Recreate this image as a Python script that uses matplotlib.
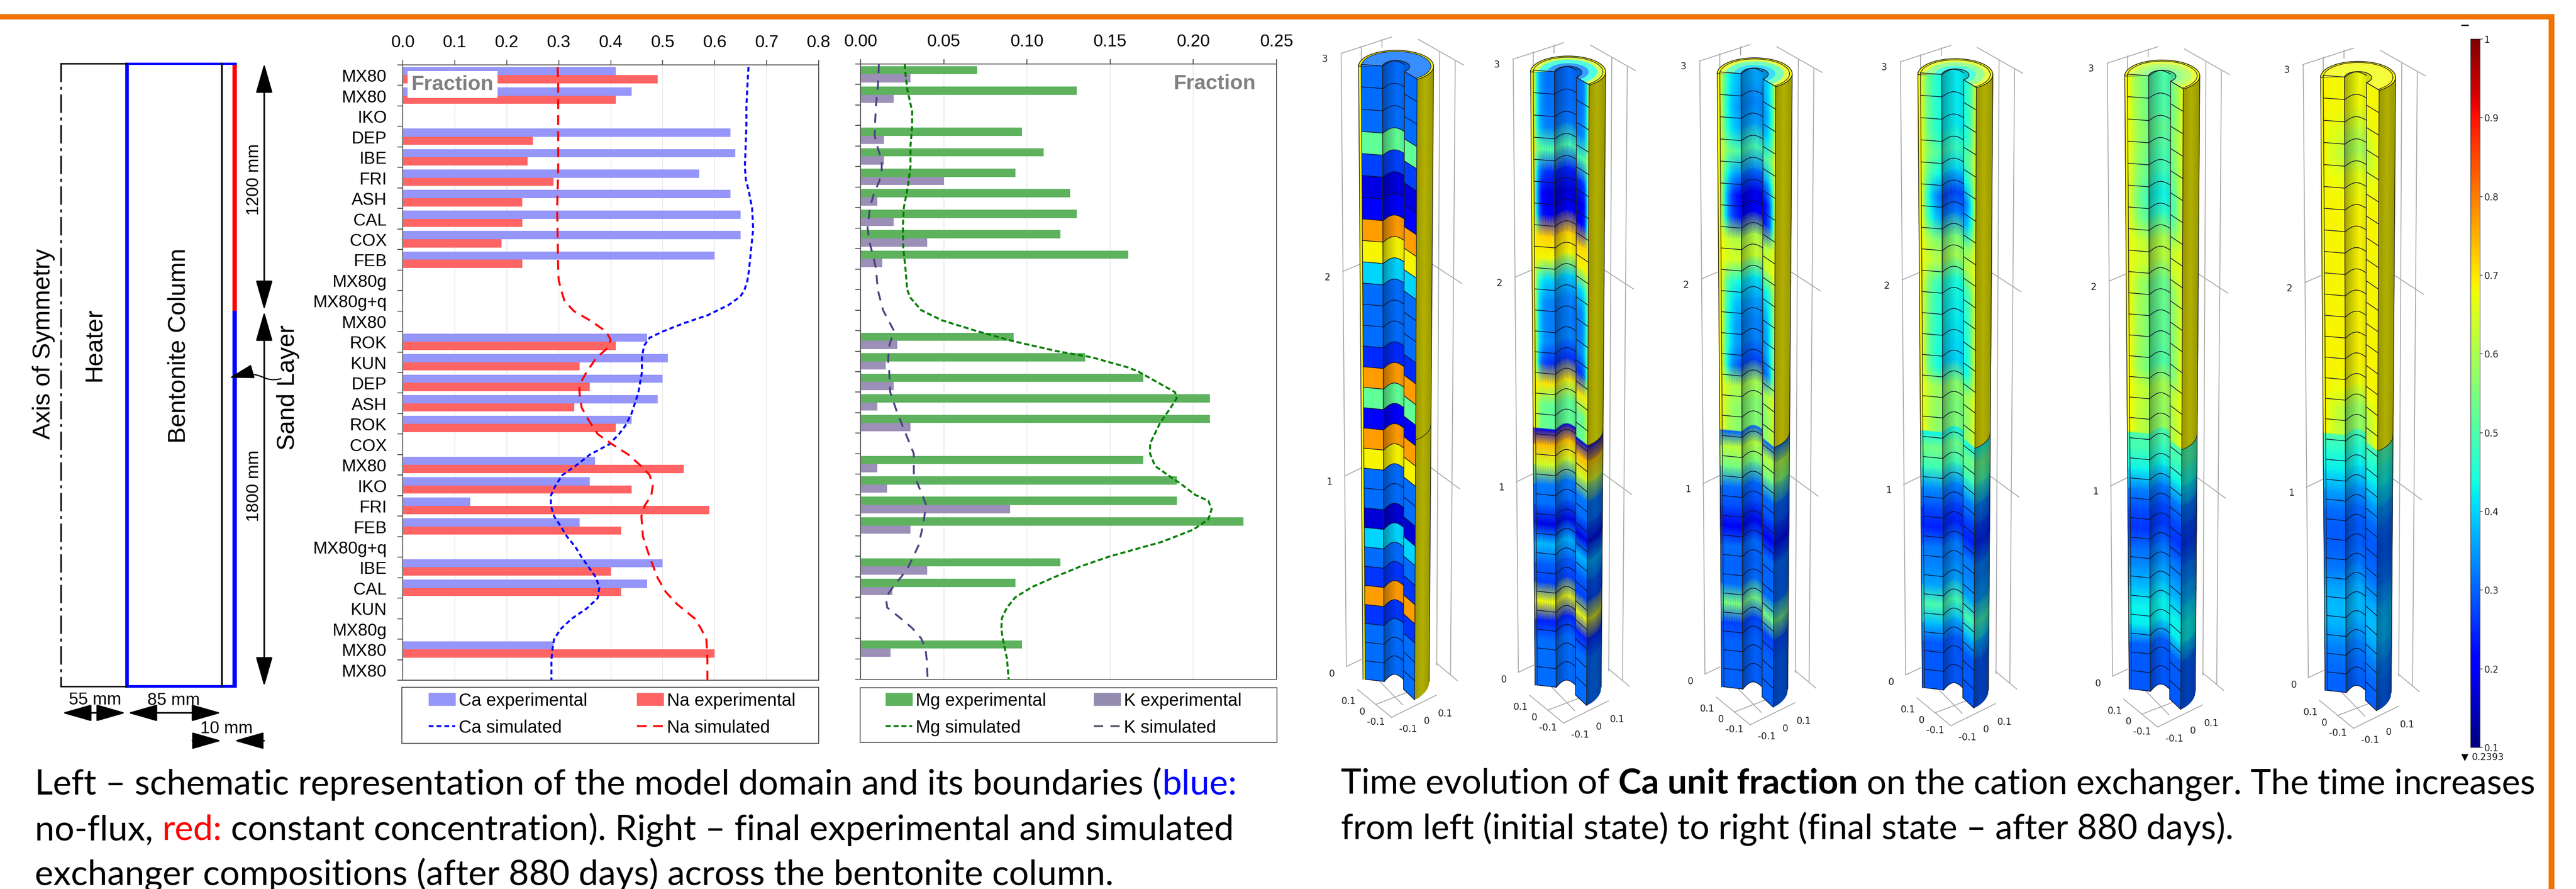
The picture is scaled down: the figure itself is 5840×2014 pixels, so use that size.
import numpy as np
import matplotlib
matplotlib.use("Agg")
import matplotlib.pyplot as plt
from matplotlib.colors import Normalize
from matplotlib.cm import ScalarMappable
from matplotlib.lines import Line2D
from matplotlib.patches import Patch, Rectangle, Polygon, Ellipse, FancyArrowPatch
from matplotlib.path import Path

W, H = 5840, 2015

samples = ["MX80", "MX80", "IKO", "DEP", "IBE", "FRI", "ASH", "CAL", "COX", "FEB",
           "MX80g", "MX80g+q", "MX80", "ROK", "KUN", "DEP", "ASH", "ROK", "COX", "MX80",
           "IKO", "FRI", "FEB", "MX80g+q", "IBE", "CAL", "KUN", "MX80g", "MX80", "MX80"]
n = np.nan
ca_exp = [.41, .44, n, .63, .64, .57, .63, .65, .65, .60, n, n, n, .47, .51, .50, .49, .44, n, .37,
          .36, .13, .34, n, .50, .47, n, n, .29, n]
na_exp = [.49, .41, n, .25, .24, .29, .23, .23, .19, .23, n, n, n, .41, .34, .36, .33, .41, n, .54,
          .44, .59, .42, n, .40, .42, n, n, .60, n]
mg_exp = [.07, .13, n, .097, .11, .093, .126, .13, .12, .161, n, n, n, .092, .135, .17, .21, .21, n, .17,
          .19, .19, .23, n, .12, .093, n, n, .097, n]
k_exp = [.03, .02, n, .014, .014, .05, .01, .02, .04, .013, n, n, n, .022, .015, .02, .01, .03, n, .01,
         .016, .09, .03, n, .04, .019, n, n, .018, n]

ca_sim_y = [.1, 1, 2, 3, 5, 5.6, 6.2, 7, 8, 9, 10, 10.5, 11, 11.3, 11.7, 12.2, 12.6, 13, 13.3, 13.7, 14.3, 15, 16,
            17, 17.6, 18, 18.5, 19, 19.5, 20, 20.5, 21, 21.5, 22, 22.5, 23, 23.5, 24, 25, 25.5, 26, 26.5, 27,
            27.5, 28, 28.5, 29, 30]
ca_sim_x = [.665, .663, .661, .661, .658, .66, .666, .672, .674, .67, .666, .663, .657, .649, .627, .587, .54, .50,
            .475, .464, .46, .46, .453, .44, .428, .416, .397, .36, .335, .307, .294, .285, .285, .291, .304,
            .316, .332, .344, .372, .378, .375, .354, .325, .304, .291, .288, .286, .286]
na_sim_y = [.1, 1, 5, 7, 10, 10.5, 11, 11.5, 12, 12.5, 13, 13.4, 13.8, 14.3, 15, 15.6, 16, 16.7, 17.3, 18, 18.5,
            19, 19.5, 20, 20.5, 21, 21.5, 22, 23, 24, 25, 25.7, 26.3, 27, 27.5, 28, 29, 30]
na_sim_x = [.298, .299, .299, .297, .299, .30, .305, .311, .329, .363, .391, .40, .394, .372, .353, .34, .34, .344,
            .357, .375, .403, .434, .456, .475, .481, .478, .465, .459, .462, .475, .49, .506, .528, .562, .574,
            .584, .586, .586]
mg_sim_y = [0, .5, 1.2, 1.8, 2.3, 3, 4, 5, 6, 7, 8, 9, 10, 11, 11.4, 12, 12.5, 13, 13.5, 14, 14.3, 14.8, 15, 15.5,
            16, 16.3, 16.8, 17.5, 18, 18.5, 19, 19.6, 20, 20.5, 21, 21.3, 21.7, 22.2, 22.7, 23.3, 24, 24.5, 25,
            25.5, 26, 26.5, 27, 27.5, 28, 29, 30]
mg_sim_x = [.0266, .027, .028, .0296, .031, .031, .03, .03, .0284, .026, .0254, .0257, .027, .028, .03, .0364, .049,
            .069, .091, .118, .139, .161, .167, .178, .189, .19, .186, .18, .177, .174, .174, .177, .184, .193,
            .201, .209, .211, .209, .20, .181, .15, .132, .117, .103, .093, .088, .085, .0846, .0854, .088, .089]
k_sim_y = [0, 1, 2, 2.7, 3.5, 4, 4.7, 5.2, 5.7, 6.3, 7, 8, 8.7, 9.5, 10, 11, 12, 13, 13.8, 14.5, 15, 16, 17, 18,
           19, 20, 21, 21.5, 22.5, 23.5, 24.5, 25, 25.5, 26, 26.5, 27, 27.5, 28, 28.5, 29, 30]
k_sim_x = [.011, .0105, .0093, .0088, .0085, .01, .0127, .0127, .0113, .0081, .0056, .0042, .0054, .008, .0093,
           .0103, .0135, .02, .017, .0166, .0172, .0178, .022, .027, .032, .032, .037, .0394, .0375, .0347,
           .0288, .0245, .0195, .0152, .016, .0237, .031, .0364, .039, .0397, .0403]

# unit fraction per layer, top to bottom, one list per time step
col1 = [.31, .31, .31, .52, .27, .18, .21, .77, .685, .40, .31, .31, .31, .25, .77, .52, .20, .77, .685, .31,
        .31, .17, .40, .31, .26, .77, .26, .31, .31, .31]
col2 = [.31, .31, .32, .50, .25, .17, .20, .72, .68, .40, .33, .32, .33, .25, .70, .52, .18, .74, .64, .32,
        .31, .18, .38, .30, .27, .68, .24, .31, .31, .31]
col3 = [.36, .33, .36, .50, .33, .19, .21, .60, .64, .42, .36, .33, .33, .27, .60, .56, .30, .62, .54, .31,
        .28, .19, .31, .30, .31, .55, .27, .30, .30, .30]
col4 = [.42, .42, .42, .48, .40, .27, .33, .54, .60, .45, .43, .42, .41, .40, .57, .55, .43, .54, .48, .34,
        .28, .24, .32, .33, .36, .50, .38, .29, .29, .29]
col5 = [.50, .50, .52, .50, .48, .43, .47, .60, .62, .53, .53, .52, .52, .50, .60, .58, .50, .49, .43, .33,
        .28, .26, .31, .34, .38, .43, .42, .30, .29, .29]
col6 = [.68, .68, .63, .59, .66, .68, .685, .685, .685, .685, .685, .685, .685, .685, .67, .58, .50, .46, .42, .36,
        .31, .29, .30, .32, .36, .38, .37, .33, .31, .30]
columns = [col1, col2, col3, col4, col5, col6]
column_cx = [3165, 3555, 3978, 4433, 4902, 5346]
column_top = [147, 160, 164, 166, 169, 172]
edge_width = [0, .16, .30, .40, .60, .8]
top_colors = [(.31, .31, .31), (.64, .45, .33), (.66, .50, .40), (.66, .55, .45), (.66, .60, .55), (.685, .68, .68)]

cb_ticks = [.1, .2, .3, .4, .5, .6, .7, .8, .9, 1]
cb_labels = ["0.1", "0.2", "0.3", "0.4", "0.5", "0.6", "0.7", "0.8", "0.9", "1"]

ORANGE = "#F07400"
ARIAL = "Liberation Sans"
YELLOW = .685
cmap = plt.get_cmap("jet")
norm = Normalize(.1, 1)

fig = plt.figure(figsize=(W / 100, H / 100), dpi=100, facecolor="white")
bg = fig.add_axes([0, 0, 1, 1])
bg.set_xlim(0, W)
bg.set_ylim(H, 0)
bg.axis("off")


def axes_px(l, t, r, b):
    return fig.add_axes([l / W, 1 - b / H, (r - l) / W, (b - t) / H])


# border
bg.add_patch(Rectangle((0, 33), 5791, 12, color=ORANGE, lw=0))
bg.add_patch(Rectangle((5778, 33), 13, H, color=ORANGE, lw=0))

# schematic
bg.plot([138, 138], [145, 1556], color="k", lw=2.5, ls=(0, (12, 3, 2, 3)))
bg.plot([138, 287], [145, 145], color="k", lw=2.5)
bg.plot([138, 287], [1556, 1556], color="k", lw=2.5)
bg.plot([503, 503], [145, 1556], color="k", lw=2.8)
bg.add_patch(Rectangle((284, 143), 253, 5, color="#0000FF", lw=0))
bg.add_patch(Rectangle((284, 1553), 253, 6, color="#0000FF", lw=0))
bg.add_patch(Rectangle((284, 143), 8, 1416, color="#0000FF", lw=0))
bg.add_patch(Rectangle((527, 148), 10, 557, color="#FF0000", lw=0))
bg.add_patch(Rectangle((527, 705), 10, 851, color="#0000FF", lw=0))


def arrow(x0, y0, x1, y1, style="<|-|>"):
    bg.annotate("", xy=(x1, y1), xytext=(x0, y0),
                arrowprops=dict(arrowstyle=style + ",head_length=0.7,head_width=0.2", color="k", lw=2.5,
                                mutation_scale=60, shrinkA=0, shrinkB=0))


arrow(599, 145, 599, 703)
arrow(599, 707, 599, 1556)
arrow(141, 1616, 285, 1616)
arrow(290, 1616, 501, 1616)
arrow(436, 1679, 502, 1679, "-|>")
arrow(599, 1679, 531, 1679, "-|>")
sand = Path([(637, 859), (590, 870), (600, 835), (520, 857)], [Path.MOVETO, Path.CURVE4, Path.CURVE4, Path.CURVE4])
bg.add_patch(FancyArrowPatch(path=sand, arrowstyle="-|>,head_length=0.7,head_width=0.2", color="k", lw=2,
                             mutation_scale=50))

for txt, x, y in [("Axis of Symmetry", 99, 779), ("Heater", 214, 781), ("Bentonite Column", 406, 783),
                  ("Sand Layer", 653, 878)]:
    bg.text(x, y, txt, rotation=90, ha="center", va="center", family=ARIAL, fontsize=40, color="k")
for txt, y in [("1200 mm", 407), ("1800 mm", 1101)]:
    bg.text(576, y, txt, rotation=90, ha="center", va="center", family=ARIAL, fontsize=28, color="k")
for txt, x, y in [("55 mm", 215, 1586), ("85 mm", 394, 1587), ("10 mm", 514, 1651)]:
    bg.text(x, y, txt, ha="center", va="center", family=ARIAL, fontsize=28, color="k")


# the two bar panels
def bar_panel(ax, left_vals, right_vals, left_color, right_color, xmax, xticks, fmt, labels):
    y = np.arange(30) + .5
    ax.barh(y - .2, left_vals, height=.4, color=left_color, zorder=2)
    ax.barh(y + .2, right_vals, height=.4, color=right_color, zorder=2)
    ax.set_xlim(0, xmax)
    ax.set_ylim(30, 0)
    ax.xaxis.tick_top()
    ax.set_xticks(xticks)
    ax.set_xticklabels([fmt % v for v in xticks], family=ARIAL, fontsize=28)
    ax.tick_params(axis="x", length=8, width=1.5, color="#555555", pad=16, labelcolor="k")
    ax.set_yticks(y)
    ax.set_yticklabels(labels, family=ARIAL, fontsize=28)
    ax.tick_params(axis="y", which="major", length=0, pad=26, labelcolor="k")
    ax.set_yticks(np.arange(31), minor=True)
    ax.tick_params(axis="y", which="minor", length=9, width=1.5, color="#555555")
    ax.grid(axis="x", color="#E8E8E8", lw=1.2, zorder=0)
    ax.set_axisbelow(True)
    for s in ax.spines.values():
        s.set_color("#555555")
        s.set_linewidth(1.5)


ax1 = axes_px(913, 148, 1856, 1542)
bar_panel(ax1, ca_exp, na_exp, "#9595FA", "#FF6464", .8, [0, .1, .2, .3, .4, .5, .6, .7, .8], "%.1f", samples)
ax1.plot(ca_sim_x, ca_sim_y, color="#0000FF", lw=3.2, ls=(0, (2.4, 1.6)), zorder=3)
ax1.plot(na_sim_x, na_sim_y, color="#FF0000", lw=3.2, ls=(0, (5, 3.2)), zorder=3)
ax1.text(.096, .95, "Fraction", family=ARIAL, weight="bold", fontsize=34, color="#808080", ha="center", va="center",
         bbox=dict(fc="white", ec="none", pad=6), zorder=4)

ax2 = axes_px(1951, 146, 2894, 1540)
bar_panel(ax2, mg_exp, k_exp, "#5EB25E", "#9C8FB8", .25, [0, .05, .1, .15, .2, .25], "%.2f", [""] * 30)
ax2.plot(mg_sim_x, mg_sim_y, color="#007F00", lw=3.2, ls=(0, (2.6, 1.4)), zorder=3)
ax2.plot(k_sim_x, k_sim_y, color="#4A4280", lw=3, ls=(0, (5, 4)), zorder=3)
ax2.text(.213, .95, "Fraction", family=ARIAL, weight="bold", fontsize=34, color="#808080", ha="center", va="center",
         zorder=4)

bg.add_patch(Rectangle((911, 1558), 945, 127, fc="white", ec="#555555", lw=1.5))
bg.add_patch(Rectangle((1950, 1559), 945, 124, fc="white", ec="#555555", lw=1.5))


def panel_legend(ax, x, y, handles, spacing):
    ax.legend(handles=handles, ncol=2, loc="upper left", bbox_to_anchor=(x / W, 1 - y / H),
              bbox_transform=fig.transFigure, frameon=False, borderpad=0, borderaxespad=0,
              handlelength=1.5, handletextpad=.2, columnspacing=spacing, labelspacing=.58,
              prop={"family": ARIAL, "size": 28.8})


panel_legend(ax1, 972, 1569, [
    Patch(color="#9595FA", label="Ca experimental"),
    Line2D([], [], color="#0000FF", lw=3.2, ls=(0, (2.4, 1.6)), label="Ca simulated"),
    Patch(color="#FF6464", label="Na experimental"),
    Line2D([], [], color="#FF0000", lw=3.2, ls=(0, (5, 3.2)), label="Na simulated")], 2.8)
panel_legend(ax2, 2008, 1569, [
    Patch(color="#5EB25E", label="Mg experimental"),
    Line2D([], [], color="#007F00", lw=3.2, ls=(0, (2.6, 1.4)), label="Mg simulated"),
    Patch(color="#948CAF", label="K experimental"),
    Line2D([], [], color="#555566", lw=3, ls=(0, (5, 4)), label="K simulated")], 2.7)


# 3d columns
T_SAND = .557
U = [0, .035, .318, .612, .78, 1]


def col_x(cx, u, t):
    return cx + (np.asarray(u) - .5) * (170 - 20 * np.asarray(t))


def col_y(top, t):
    return top + 1393 * (1.1 * np.asarray(t) - .1 * np.asarray(t) ** 2)


def offset(u, t, face):
    p = 1 + .4 * t
    if face == 0:
        return 0 * u
    if face == 1:
        return p * 3.5 * (u - U[1]) / (U[2] - U[1])
    if face == 2:
        v = (u - U[2]) / (U[3] - U[2])
        return p * (4 * (1 - v) - 10 * np.sin(np.pi * v))
    if face == 3:
        v = (u - U[3]) / (U[4] - U[3])
        return p * (16 + 17 * v)
    c = np.clip((u - .5) * 2, -1, 1)
    return 4 + 36 * p * np.sqrt(1 - c ** 2)


def shade_of(u, face):
    if face == 2:
        v = (u - U[2]) / (U[3] - U[2])
        return np.interp(v, [0, .12, .7, 1], [.62, .74, 1, .9])
    if face == 4:
        v = (u - U[4]) / (U[5] - U[4])
        return np.interp(v, [0, .5, 1], [.62, .72, .62])
    return np.ones_like(u)


def draw_face(cx, top, vals, face, width, sharp, solid_above=False):
    us = np.linspace(U[face], U[face + 1], 18 if face in (2, 4) else 9)
    v = np.array(vals, dtype=float)
    if sharp:
        ts = np.linspace(0, 1, 31)
        row_t = (ts[:-1] + ts[1:]) / 2
        row_v = v
        col_u = (us[:-1] + us[1:]) / 2
    else:
        row_t = (np.arange(30) + .5) / 30
        row_t = np.r_[0, row_t[:16], T_SAND - .001, T_SAND + .001, row_t[17:], 1]
        row_v = np.r_[v[0], v[:16], v[15], v[16], v[17:], v[-1]]
        ts = row_t
        col_u = us
    val = np.tile(row_v[:, None], (1, len(col_u)))
    if face in (1, 3) and width > 0:
        d = (col_u - U[1]) / (U[2] - U[1]) if face == 1 else (U[4] - col_u) / (U[4] - U[3])
        weight = np.exp(-d / width)
        upper = row_t < T_SAND
        val[upper] = val[upper] + (YELLOW - val[upper]) * weight[None, :]
    if solid_above:
        val[row_t < T_SAND] = YELLOW
    rgba = cmap(norm(val))
    rgba[..., :3] *= shade_of(col_u, face)[None, :, None]
    tt, uu = np.meshgrid(ts, us, indexing="ij")
    X = col_x(cx, uu, tt)
    Y = col_y(top, tt) + offset(uu, tt, face)
    bg.pcolormesh(X, Y, rgba, shading="flat" if sharp else "gouraud", zorder=5, rasterized=True,
                  edgecolors="none", antialiased=False)


def band_lines(cx, top):
    for t in np.arange(0, 31) / 30:
        for face in (1, 2, 3):
            us = np.linspace(U[face], U[face + 1], 20)
            bg.plot(col_x(cx, us, t), col_y(top, t) + offset(us, t, face), color="#101030", lw=1.1, zorder=6)


def edge_lines(cx, top):
    ts = np.array([0, 1.0])
    for i, u in enumerate(U):
        face = min(i, 4)
        bg.plot(col_x(cx, u, ts), col_y(top, ts) + offset(np.array(u), ts, face), color="#222222", lw=1.1, zorder=6)


def column_top_cap(cx, top, colors, bore_val):
    yc = top + 4
    th = np.radians(np.linspace(55.6, -180, 120))
    outer = np.c_[cx + 85 * np.cos(th), yc + 36 * np.sin(th)]
    th2 = np.radians(np.linspace(-180, 50, 50))
    hole = np.c_[cx + 31 * np.cos(th2), top + 5 + 14 * np.sin(th2)]
    pts = np.r_[outer, [[cx - 31, top + 3]], hole,
                [[col_x(cx, U[3], 0), top + 16], [col_x(cx, U[4], 0), top + 33]]]
    # inside of the bore, seen through the cut
    bore = np.array(cmap(norm(bore_val)))
    bore[:3] *= .85
    bg.add_patch(Polygon(np.r_[hole, [[cx + 19, top + 30], [cx - 31, top + 30]]], closed=True, fc=bore, ec="none",
                         zorder=4.5))
    poly = Polygon(pts, closed=True, fc="#FFFF00", ec="#222222", lw=1.2, zorder=5)
    bg.add_patch(poly)
    for scale, val in [(.93, colors[0]), (.78, colors[1]), (.55, colors[2])]:
        fc = np.array(cmap(norm(val)))
        fc[:3] += (1 - fc[:3]) * .22
        e = Ellipse((cx, yc), 170 * scale, 72 * scale, fc=fc, ec="none", zorder=5)
        bg.add_patch(e)
        e.set_clip_path(poly)
    inner = .93
    th3 = np.radians(np.linspace(0, 360, 120))
    rim, = bg.plot(cx + 85 * inner * np.cos(th3), yc + 36 * inner * np.sin(th3), color="#222222", lw=1, zorder=5)
    rim.set_clip_path(poly)
    bg.plot(hole[:, 0], hole[:, 1], color="#222222", lw=1.1, zorder=6)


def frame_3d(cx, top):
    segs = [((-125, -25), (-113, 1364)), ((-125, -25), (-8, -62)), ((-78, -41), (-78, 8)), ((-30, -57), (-30, -39)),
            ((54, -57), (159, 1)), ((104, -28), (97, 1361)), ((140, -7), (129, 1382)),
            ((-121, 469), (-78, 451)), ((84, 451), (155, 496)), ((-118, 933), (-78, 914)), ((84, 914), (150, 961)),
            ((-113, 1364), (-78, 1348)), ((96, 1356), (145, 1396)),
            ((-87, 1416), (-8, 1479)), ((-35, 1398), (18, 1451)), ((-8, 1479), (96, 1429)), ((-45, 1450), (75, 1405))]
    for (x0, y0), (x1, y1) in segs:
        bg.plot([cx + x0 * .976 - 2.5, cx + x1 * .976 - 2.5], [top + y0, top + y1], color="#A8A8A8", lw=1.4, zorder=2)
    labels = [("3", -163, -13), ("2", -157, 482), ("1", -152, 945), ("0", -147, 1380), ("0.1", -108, 1442),
              ("0", -76, 1466), ("-0.1", -44, 1489), ("-0.1", 31, 1505), ("0", 74, 1487), ("0.1", 116, 1470)]
    for txt, dx, dy in labels:
        bg.text(cx + dx * .976 - 2.5, top + dy, txt, fontsize=15, ha="center", va="center", color="#222222", zorder=2)


for i, vals in enumerate(columns):
    cx, top = column_cx[i], column_top[i]
    sharp = i == 0
    frame_3d(cx, top)
    draw_face(cx, top, vals, 0, 0, sharp, solid_above=True)
    draw_face(cx, top, vals, 1, edge_width[i], sharp)
    draw_face(cx, top, vals, 2, 0, sharp)
    draw_face(cx, top, vals, 3, edge_width[i], sharp)
    if i == 0:
        draw_face(cx, top, [YELLOW] * 30, 4, 0, True)
        draw_face(cx, top, [YELLOW] * 30, 0, 0, True)
    else:
        draw_face(cx, top, vals, 4, 0, sharp, solid_above=True)
    column_top_cap(cx, top, top_colors[i], vals[0])
    band_lines(cx, top)
    edge_lines(cx, top)
    us = np.linspace(U[4], U[5], 20)
    bg.plot(col_x(cx, us, T_SAND), col_y(top, T_SAND) + offset(us, T_SAND, 4), color="#222222", lw=1, zorder=6)

# colour scale
cax = axes_px(5601, 89, 5622, 1694)
cb = fig.colorbar(ScalarMappable(norm=norm, cmap=cmap), cax=cax, ticks=cb_ticks)
cb.ax.set_yticklabels(cb_labels, fontsize=15, color="#222222")
cb.ax.tick_params(length=4, width=1, color="#222222", pad=3)
cb.outline.set_linewidth(.6)
bg.text(5588, 1716, "\u25bc", fontsize=15, ha="center", va="center", color="k")
bg.text(5604, 1716, "0.2393", fontsize=15, ha="left", va="center", color="#222222")
bg.plot([5581, 5595], [58, 58], color="k", lw=2)

# captions
CAPTION = "Lato"


def rich_line(x, y, pieces, size):
    renderer = fig.canvas.get_renderer()
    dot = bg.text(0, 0, ".", family=CAPTION, fontsize=size)
    dot_w = dot.get_window_extent(renderer).width
    dot.remove()
    for txt, color, weight in pieces:
        probe = bg.text(0, 0, txt + ".", family=CAPTION, fontsize=size, weight=weight)
        w = probe.get_window_extent(renderer).width - dot_w
        probe.remove()
        bg.text(x, y, txt, family=CAPTION, fontsize=size, color=color, weight=weight, va="baseline", ha="left")
        x += w


K = "black"
rich_line(79, 1800, [("Left \u2013 schematic representation of the model domain and its boundaries (", K, "normal"),
                     ("blue:", "#0000FF", "normal")], 57.3)
rich_line(79, 1903, [("no-flux, ", K, "normal"), ("red:", "#FF0000", "normal"),
                     (" constant concentration). Right \u2013 final experimental and simulated", K, "normal")], 57.3)
rich_line(79, 2005, [("exchanger compositions (after 880 days) across the bentonite column.", K, "normal")], 57.3)
rich_line(3040, 1798, [("Time evolution of ", K, "normal"), ("Ca unit fraction", K, "bold"),
                       (" on the cation exchanger. The time increases", K, "normal")], 56.7)
rich_line(3040, 1901, [("from left (initial state) to right (final state \u2013 after 880 days).", K, "normal")], 56.7)

bg.set_xlim(0, W)
bg.set_ylim(H, 0)
fig.savefig("out.png", dpi=100)
